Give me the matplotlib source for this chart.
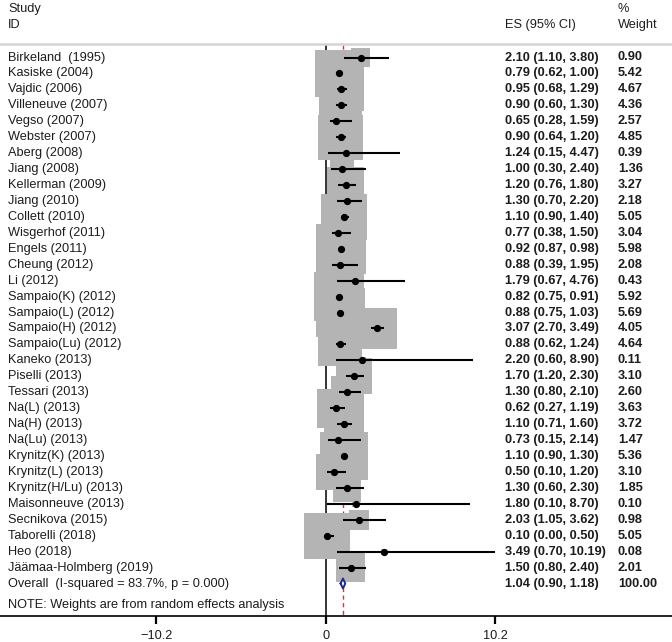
import numpy as np
import matplotlib
matplotlib.use("Agg")
import matplotlib.pyplot as plt
from matplotlib.transforms import blended_transform_factory

studies = ["Birkeland  (1995)", "Kasiske (2004)", "Vajdic (2006)", "Villeneuve (2007)",
           "Vegso (2007)", "Webster (2007)", "Aberg (2008)", "Jiang (2008)",
           "Kellerman (2009)", "Jiang (2010)", "Collett (2010)", "Wisgerhof (2011)",
           "Engels (2011)", "Cheung (2012)", "Li (2012)", "Sampaio(K) (2012)",
           "Sampaio(L) (2012)", "Sampaio(H) (2012)", "Sampaio(Lu) (2012)", "Kaneko (2013)",
           "Piselli (2013)", "Tessari (2013)", "Na(L) (2013)", "Na(H) (2013)",
           "Na(Lu) (2013)", "Krynitz(K) (2013)", "Krynitz(L) (2013)", "Krynitz(H/Lu) (2013)",
           "Maisonneuve (2013)", "Secnikova (2015)", "Taborelli (2018)", "Heo (2018)",
           "Jäämaa-Holmberg (2019)"]
es = [2.10, 0.79, 0.95, 0.90, 0.65, 0.90, 1.24, 1.00, 1.20, 1.30, 1.10, 0.77, 0.92, 0.88,
      1.79, 0.82, 0.88, 3.07, 0.88, 2.20, 1.70, 1.30, 0.62, 1.10, 0.73, 1.10, 0.50, 1.30,
      1.80, 2.03, 0.10, 3.49, 1.50]
lo = [1.10, 0.62, 0.68, 0.60, 0.28, 0.64, 0.15, 0.30, 0.76, 0.70, 0.90, 0.38, 0.87, 0.39,
      0.67, 0.75, 0.75, 2.70, 0.62, 0.60, 1.20, 0.80, 0.27, 0.71, 0.15, 0.90, 0.10, 0.60,
      0.10, 1.05, 0.00, 0.70, 0.80]
hi = [3.80, 1.00, 1.29, 1.30, 1.59, 1.20, 4.47, 2.40, 1.80, 2.20, 1.40, 1.50, 0.98, 1.95,
      4.76, 0.91, 1.03, 3.49, 1.24, 8.90, 2.30, 2.10, 1.19, 1.60, 2.14, 1.30, 1.20, 2.30,
      8.70, 3.62, 0.50, 10.19, 2.40]
weights = [0.90, 5.42, 4.67, 4.36, 2.57, 4.85, 0.39, 1.36, 3.27, 2.18, 5.05, 3.04, 5.98, 2.08,
           0.43, 5.92, 5.69, 4.05, 4.64, 0.11, 3.10, 2.60, 3.63, 3.72, 1.47, 5.36, 3.10, 1.85,
           0.10, 0.98, 5.05, 0.08, 2.01]

overall_label = "Overall  (I-squared = 83.7%, p = 0.000)"
overall_es, overall_lo, overall_hi = 1.04, 0.90, 1.18
overall_weight = 100.00
note = "NOTE: Weights are from random effects analysis"
xticks = [-10.2, 0, 10.2]

# layout in pixels (y measured from top of figure)
W, H = 672, 642
axis_y = 616
row0, row_h = 57.5, 15.94
zero_px, px_per_unit = 325.7, 16.6

plt.rcParams['font.family'] = ['Liberation Sans', 'DejaVu Sans']
fs = 9.2
txt_col = '#1c1c1c'

fig = plt.figure(figsize=(W / 100, H / 100), dpi=100)
ax = fig.add_axes([0, (H - axis_y) / H, 1, axis_y / H])
ax.set_xlim(-zero_px / px_per_unit, (W - zero_px) / px_per_unit)
ax.set_ylim(axis_y, 0)

n = len(studies)
ys = row0 + np.arange(n) * row_h
y_over = row0 + n * row_h

# reference lines (under the boxes)
ax.plot([0, 0], [45, axis_y], color='black', lw=1.1, zorder=1)
ax.plot([overall_es, overall_es], [45, axis_y], color='#b8404e', lw=1.0,
        dashes=(3, 2.5), zorder=1)

# weight boxes, side ~ 20.4 px * sqrt(weight)
sizes = (20.4 * 0.72) ** 2 * np.array(weights)
ax.scatter(es, ys, s=sizes, marker='s', color='#b4b4b4', linewidths=0, zorder=2)

for i in range(n):
    ax.plot([lo[i], hi[i]], [ys[i], ys[i]], color='black', lw=1.5, zorder=3,
            solid_capstyle='butt')
ax.plot(es, ys, 'o', color='black', ms=4.2, zorder=4)

# overall diamond
dx = [overall_lo, overall_es, overall_hi, overall_es, overall_lo]
dy = [y_over, y_over - 5, y_over, y_over + 5, y_over]
ax.fill(dx, dy, color='white', zorder=4)
ax.plot(dx, dy, color='#1f2a8a', lw=1.4, zorder=5)

# text columns
tr = blended_transform_factory(ax.transAxes, ax.transData)
x_name, x_es, x_w = 8 / W, 505 / W, 618 / W
ax.text(x_name, 9, "Study", transform=tr, fontsize=fs, va='center', color=txt_col)
ax.text(x_name, 25, "ID", transform=tr, fontsize=fs, va='center', color=txt_col)
ax.text(x_es, 25, "ES (95% CI)", transform=tr, fontsize=fs, va='center', color=txt_col)
ax.text(x_w, 9, "%", transform=tr, fontsize=fs, va='center', color=txt_col)
ax.text(x_w, 25, "Weight", transform=tr, fontsize=fs, va='center', color=txt_col)
ax.plot([0, 1], [43.5, 43.5], transform=tr, color='#d4d4d4', lw=1.8, zorder=1)

for i in range(n):
    ax.text(x_name, ys[i], studies[i], transform=tr, fontsize=fs, va='center', color=txt_col)
    ax.text(x_es, ys[i], "%.2f (%.2f, %.2f)" % (es[i], lo[i], hi[i]), transform=tr,
            fontsize=fs, va='center', color=txt_col, fontweight='bold')
    ax.text(x_w, ys[i], "%.2f" % weights[i], transform=tr, fontsize=fs, va='center',
            color=txt_col, fontweight='bold')

ax.text(x_name, y_over, overall_label, transform=tr, fontsize=fs, va='center', color=txt_col)
ax.text(x_es, y_over, "%.2f (%.2f, %.2f)" % (overall_es, overall_lo, overall_hi),
        transform=tr, fontsize=fs, va='center', color=txt_col, fontweight='bold')
ax.text(x_w, y_over, "%.2f" % overall_weight, transform=tr, fontsize=fs, va='center',
        color=txt_col, fontweight='bold')
ax.text(x_name, 605, note, transform=tr, fontsize=fs, va='center', color=txt_col)

# x axis
for s in ['top', 'left', 'right']:
    ax.spines[s].set_visible(False)
ax.spines['bottom'].set_linewidth(1.2)
ax.set_yticks([])
ax.set_xticks(xticks)
ax.set_xticklabels(["\u221210.2", "0", "10.2"])
ax.tick_params(axis='x', direction='out', length=6, width=1.6, pad=4,
               labelsize=fs, labelcolor=txt_col)

fig.savefig("out.png", dpi=100)
